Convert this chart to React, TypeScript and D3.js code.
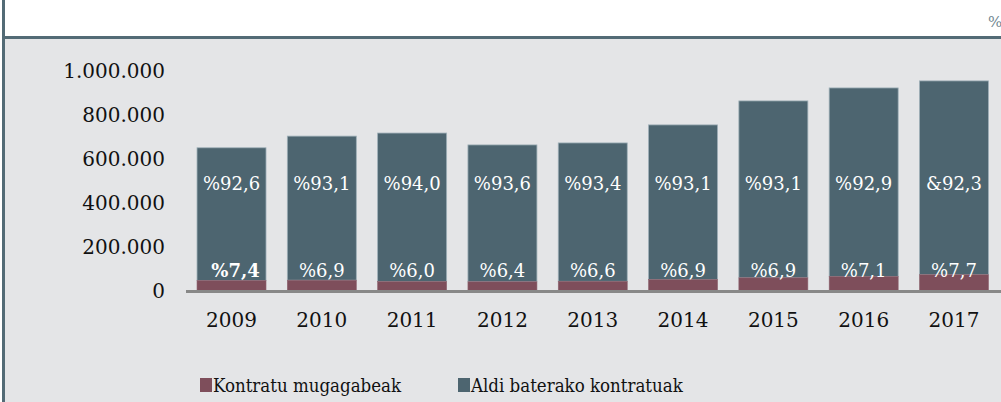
import React from "react";
import * as d3 from "d3";

const years = ["2009", "2010", "2011", "2012", "2013", "2014", "2015", "2016", "2017"];
const indefinite = [48000, 49000, 43000, 42000, 44000, 52000, 60000, 66000, 74000];
const temporary = [603000, 655000, 675000, 622000, 629000, 703000, 804000, 857000, 881000];
const indefLabels = ["%7,4", "%6,9", "%6,0", "%6,4", "%6,6", "%6,9", "%6,9", "%7,1", "%7,7"];
const tempLabels = ["%92,6", "%93,1", "%94,0", "%93,6", "%93,4", "%93,1", "%93,1", "%92,9", "&92,3"];
const yTicks = [0, 200000, 400000, 600000, 800000, 1000000];
const seriesNames = ["Kontratu mugagabeak", "Aldi baterako kontratuak"];

const W = 1001;
const H = 402;
const FONT = "'DejaVu Serif', serif";
const RED = "#7e4e5b";
const SLATE = "#4d6570";
const BG = "#e4e5e7";
const BORDER = "#536b76";

export default function App() {
  const x = d3
    .scaleBand<string>()
    .domain(years)
    .range([186, 999.5])
    .paddingInner(0.236)
    .paddingOuter(0.122);
  const y = d3.scaleLinear().domain([0, 1000000]).range([291, 71]);
  const fmt = (v: number) => d3.format(",")(v).replace(/,/g, ".");

  const stacked = years.map((yr, i) => ({
    yr,
    a0: 0,
    a1: indefinite[i],
    b0: indefinite[i],
    b1: indefinite[i] + temporary[i],
  }));

  return (
    <svg
      width={W}
      height={H}
      style={{ position: "fixed", left: 0, top: 0, display: "block" }}
      fontFamily={FONT}
    >
      <rect x={0} y={0} width={W} height={H} fill="#ffffff" />
      <rect x={4} y={38} width={W - 4} height={H - 38} fill={BG} />
      <rect x={2} y={0} width={3} height={H} fill={BORDER} />
      <rect x={2} y={36} width={W} height={3} fill={BORDER} />
      <text x={988} y={27} fontSize={15} fill="#6f8690">%</text>

      {yTicks.map((t) => (
        <text
          key={t}
          x={165}
          y={y(t)}
          dy="0.35em"
          textAnchor="end"
          fontSize={20}
          fill="#111"
        >
          {fmt(t)}
        </text>
      ))}

      {stacked.map((d, i) => (
        <g key={d.yr}>
          <rect
            x={x(d.yr)}
            y={y(d.b1)}
            width={x.bandwidth()}
            height={y(d.b0) - y(d.b1)}
            fill={SLATE}
            stroke="#9fb0b8"
            strokeWidth={0.8}
          />
          <rect
            x={x(d.yr)}
            y={y(d.a1)}
            width={x.bandwidth()}
            height={y(d.a0) - y(d.a1)}
            fill={RED}
            stroke="#8e6470"
            strokeWidth={0.6}
          />
          <text
            x={(x(d.yr) as number) + x.bandwidth() / 2}
            y={190}
            textAnchor="middle"
            fontSize={18}
            fill="#ffffff"
          >
            {tempLabels[i]}
          </text>
          <text
            x={(x(d.yr) as number) + x.bandwidth() / 2 + (i === 0 ? 4 : 0)}
            y={277}
            textAnchor="middle"
            fontSize={18}
            fontWeight={i === 0 ? "bold" : "normal"}
            fill="#ffffff"
          >
            {indefLabels[i]}
          </text>
          <text
            x={(x(d.yr) as number) + x.bandwidth() / 2}
            y={327}
            textAnchor="middle"
            fontSize={20}
            fill="#111"
          >
            {d.yr}
          </text>
        </g>
      ))}

      <line x1={186} x2={W} y1={291.5} y2={291.5} stroke="#888" strokeWidth={3} />

      {seriesNames.map((name, i) => {
        const lx = i === 0 ? 200 : 458;
        return (
          <g key={name}>
            <rect x={lx} y={378} width={12} height={14} fill={i === 0 ? RED : SLATE} />
            <text
              x={lx + 13}
              y={392}
              fontSize={18.5}
              fill="#111"
              style={{ fontStretch: "condensed" }}
            >
              {name}
            </text>
          </g>
        );
      })}
    </svg>
  );
}
